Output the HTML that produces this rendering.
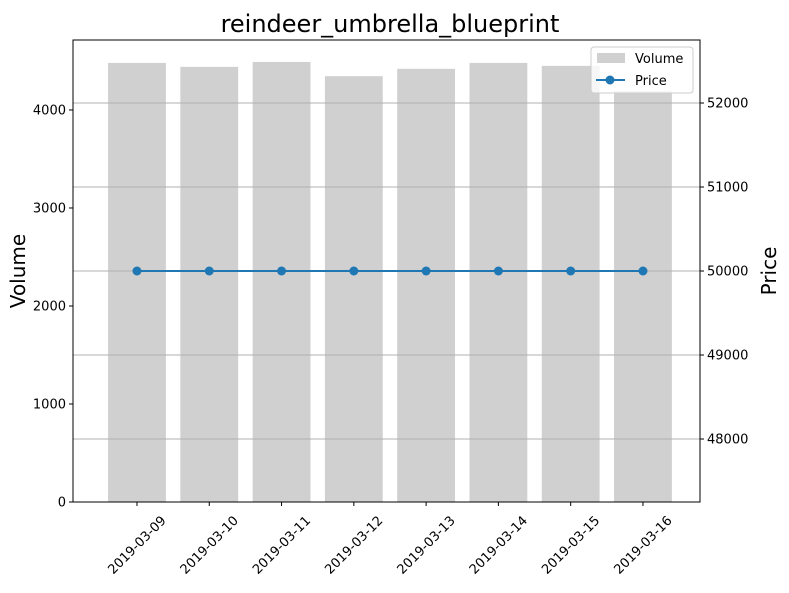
<!DOCTYPE html>
<html><head><meta charset="utf-8"><style>
body{margin:0;background:#fff;font-family:"Liberation Sans","DejaVu Sans",sans-serif}
svg text{font-family:"DejaVu Sans","Liberation Sans",sans-serif}
</style></head><body>
<svg id="chart" width="789" height="588" xmlns="http://www.w3.org/2000/svg">
<rect width="789" height="588" fill="#fff"/>
<text x="390" y="32" font-size="24" text-anchor="middle">reindeer_umbrella_blueprint</text>
<g id="bars"></g><g id="grid"></g><g id="line"></g><g id="axes"></g>
<text transform="translate(25,271) rotate(-90)" font-size="20" text-anchor="middle">Volume</text>
<text transform="translate(776,271) rotate(-90)" font-size="20" text-anchor="middle">Price</text>
<g>
<rect x="591" y="47" width="102" height="46" fill="#fff" fill-opacity="0.8" stroke="#ccc" rx="3"/>
<rect x="597" y="53" width="28" height="10" fill="#d0d0d0"/>
<text x="635" y="63" font-size="13">Volume</text>
<line x1="596" y1="80" x2="625" y2="80" stroke="#1f77b4" stroke-width="2"/>
<circle cx="610" cy="80" r="4.5" fill="#1f77b4"/>
<text x="635" y="85" font-size="13">Price</text>
</g>
</svg>
<script>
const dates=["2019-03-09","2019-03-10","2019-03-11","2019-03-12","2019-03-13","2019-03-14","2019-03-15","2019-03-16"];
const volume=[4480,4440,4490,4345,4420,4480,4450,4195];
const price=[50000,50000,50000,50000,50000,50000,50000,50000];
const volTicks=[0,1000,2000,3000,4000];
const priceTicks=[48000,49000,50000,51000,52000];
const L=73,R=700,T=40,B=502,NS="http://www.w3.org/2000/svg";
const xs=i=>L+(i+0.885)*(R-L)/8.674;
const yv=v=>B-v*(B-T)/4714;
const yp=v=>B-(v-47250)*(B-T)/5500;
function mk(t,a,p){const e=document.createElementNS(NS,t);for(const k in a)e.setAttribute(k,a[k]);p.appendChild(e);return e;}
const g=id=>document.getElementById(id);
const bw=0.8*(R-L)/8.674;
volume.forEach((v,i)=>{const r=mk('rect',{x:xs(i)-bw/2,y:yv(v),width:bw,height:B-yv(v),fill:'#d0d0d0'},g('bars'));

});
priceTicks.forEach(t=>{const l=mk('line',{x1:L,x2:R,y1:yp(t),y2:yp(t),stroke:'#b0b0b0','stroke-width':1},g('grid'));

});
const pl=mk('polyline',{points:price.map((p,i)=>xs(i)+','+yp(p)).join(' '),fill:'none',stroke:'#1f77b4','stroke-width':2},g('line'));


price.forEach((p,i)=>{const c=mk('circle',{cx:xs(i),cy:yp(p),r:4.5,fill:'#1f77b4'},g('line'));

});
const ax=g('axes');
mk('rect',{x:L,y:T,width:R-L,height:B-T,fill:'none',stroke:'#000','stroke-width':1},ax);
volTicks.forEach(t=>{const y=yv(t);mk('line',{x1:L-4,x2:L,y1:y,y2:y,stroke:'#000'},ax);
const tx=mk('text',{x:L-7,y:y+4.5,'font-size':13,'text-anchor':'end'},ax);tx.textContent=t;

});
priceTicks.forEach(t=>{const y=yp(t);mk('line',{x1:R,x2:R+4,y1:y,y2:y,stroke:'#000'},ax);
const tx=mk('text',{x:R+7,y:y+4.5,'font-size':13},ax);tx.textContent=t;

});
dates.forEach((d,i)=>{const x=xs(i);mk('line',{x1:x,x2:x,y1:B,y2:B+4,stroke:'#000'},ax);
const tx=mk('text',{transform:`translate(${x+3},${B+46}) rotate(-45)`,'font-size':13,'text-anchor':'middle'},ax);tx.textContent=d;

});
</script>
</body></html>
